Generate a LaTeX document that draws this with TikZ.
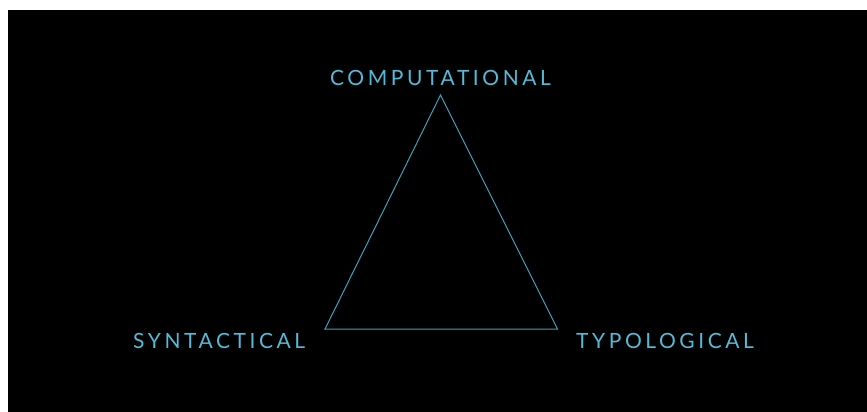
\documentclass[tikz,border=0pt]{standalone}
\usepackage{fontspec}
\setmainfont{Lato}
\newfontfamily\labelfont[LetterSpace=17]{Lato}
\definecolor{labelcyan}{RGB}{84,186,216}
\definecolor{linecyan}{RGB}{60,160,190}
\begin{document}
\begin{tikzpicture}[x=1pt,y=-1pt,
  lbl/.style={text=labelcyan,font=\labelfont\fontsize{21}{24}\selectfont,inner sep=0pt,anchor=base west},
  tri/.style={draw=linecyan,line width=1pt,line join=miter}]
\useasboundingbox (0,0) rectangle (867,412);
\fill[white] (0,0) rectangle (867,412);
\fill[black] (8,10) rectangle (867,412);
\coordinate (top) at (440.5,95);
\coordinate (bl) at (325,329);
\coordinate (br) at (557.5,329);
\draw[tri] (top) -- (bl) -- (br) -- cycle;
\node[lbl] (comp) at (330,85) {COMPUTATIONAL};
\node[lbl] (synt) at (133,348) {SYNTACTICAL};
\node[lbl] (typo) at (576,348) {TYPOLOGICAL};
\end{tikzpicture}
\end{document}
